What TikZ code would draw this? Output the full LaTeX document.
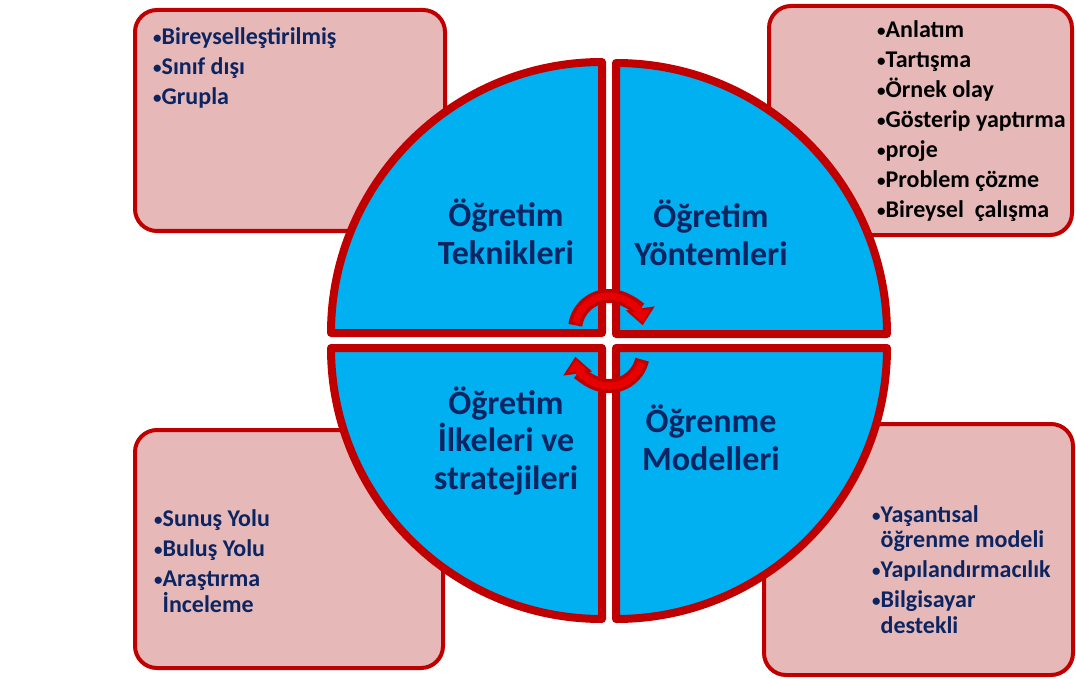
\documentclass[tikz,border=0pt]{standalone}
\usepackage{fontspec}
\setmainfont{Carlito}
\usetikzlibrary{arrows.meta}
\definecolor{darkred}{HTML}{C00000}
\definecolor{arrowred}{HTML}{E80000}
\definecolor{quadblue}{HTML}{00B0F0}
\definecolor{boxpink}{HTML}{E6B9B8}
\definecolor{navy}{HTML}{0B2462}
\tikzset{
  quad/.style={draw=darkred, fill=quadblue, line width=8pt, line join=round},
  infobox/.style={draw=darkred, fill=boxpink, line width=4pt, rounded corners=22pt},
  listtext/.style={anchor=base west, align=left, text=navy, inner sep=0pt,
    font=\fontsize{24}{30}\selectfont\bfseries},
  quadlabel/.style={anchor=base, align=center, text=navy, inner sep=0pt,
    font=\fontsize{34}{37.5}\selectfont\bfseries},
  turnout/.style={darkred, line width=14pt, -{Triangle[width=28pt,length=17pt]}},
  turnin/.style={arrowred, line width=7pt, shorten >=3.5pt, -{Triangle[width=18pt,length=11pt]}},
}
\newcommand{\blt}{\raisebox{1pt}{\fontsize{17}{17}\selectfont•}}
\newcommand{\cont}{\phantom{\blt}}
\begin{document}
\begin{tikzpicture}[x=1pt, y=-1pt]
  \useasboundingbox (0,0) rectangle (1076,679);

  % Boxes (behind the circle)
  \draw[infobox] (135,10) rectangle (445,231);
  \draw[infobox] (769,6) rectangle (1072,235);
  \draw[infobox] (135,430) rectangle (443,668);
  \draw[infobox] (764,424) rectangle (1073,675);

  % Box texts (placed at the baseline of the last line)
  \node[listtext] (teknik) at (153,105) {\blt Bireyselleştirilmiş\\\blt Sınıf dışı\\\blt Grupla};
  \node[listtext, text=black] (yontem) at (877,218)
    {\blt Anlatım\\\blt Tartışma\\\blt Örnek olay\\\blt Gösterip yaptırma\\\blt proje\\\blt Problem çözme\\\blt Bireysel\ \ çalışma};
  \node[listtext] (ilke) at (154,612)
    {\blt Sunuş Yolu\\\blt Buluş Yolu\\\blt Araştırma\\[-4.5pt]\cont İnceleme};
  \node[listtext] (model) at (872,633)
    {\blt Yaşantısal\\[-4.5pt]\cont öğrenme modeli\\\blt Yapılandırmacılık\\\blt Bilgisayar\\[-4.5pt]\cont destekli};

  % Quarter circles
  \draw[quad] (602,333) -- (331,333) arc[start angle=180, end angle=270, radius=271] -- cycle;
  \draw[quad] (616,334) -- (616,63) arc[start angle=270, end angle=360, radius=271] -- cycle;
  \draw[quad] (602,348) -- (602,619) arc[start angle=90, end angle=180, radius=271] -- cycle;
  \draw[quad] (616,348) -- (887,348) arc[start angle=0, end angle=90, radius=271] -- cycle;

  % Quarter labels
  \node[quadlabel] (tekniklbl) at (506,264) {Öğretim\\Teknikleri};
  \node[quadlabel] (yontemlbl) at (711,265) {Öğretim\\Yöntemleri};
  \node[quadlabel] (ilkelbl) at (506,489) {Öğretim\\İlkeleri ve\\stratejileri};
  \node[quadlabel] (modellbl) at (711,470) {Öğrenme\\Modelleri};

  % Turning arrows in the middle
  \coordinate (uppivot) at (609,330);
  \coordinate (lowpivot) at (609,352);
  \draw[turnout] (uppivot) ++(-172:34) arc[start angle=-172, end angle=-8, radius=34];
  \draw[turnin] (uppivot) ++(-167:34) arc[start angle=-167, end angle=-8, radius=34];
  \draw[turnout] (lowpivot) ++(13:34) arc[start angle=13, end angle=172, radius=34];
  \draw[turnin] (lowpivot) ++(18:34) arc[start angle=18, end angle=172, radius=34];
\end{tikzpicture}
\end{document}
